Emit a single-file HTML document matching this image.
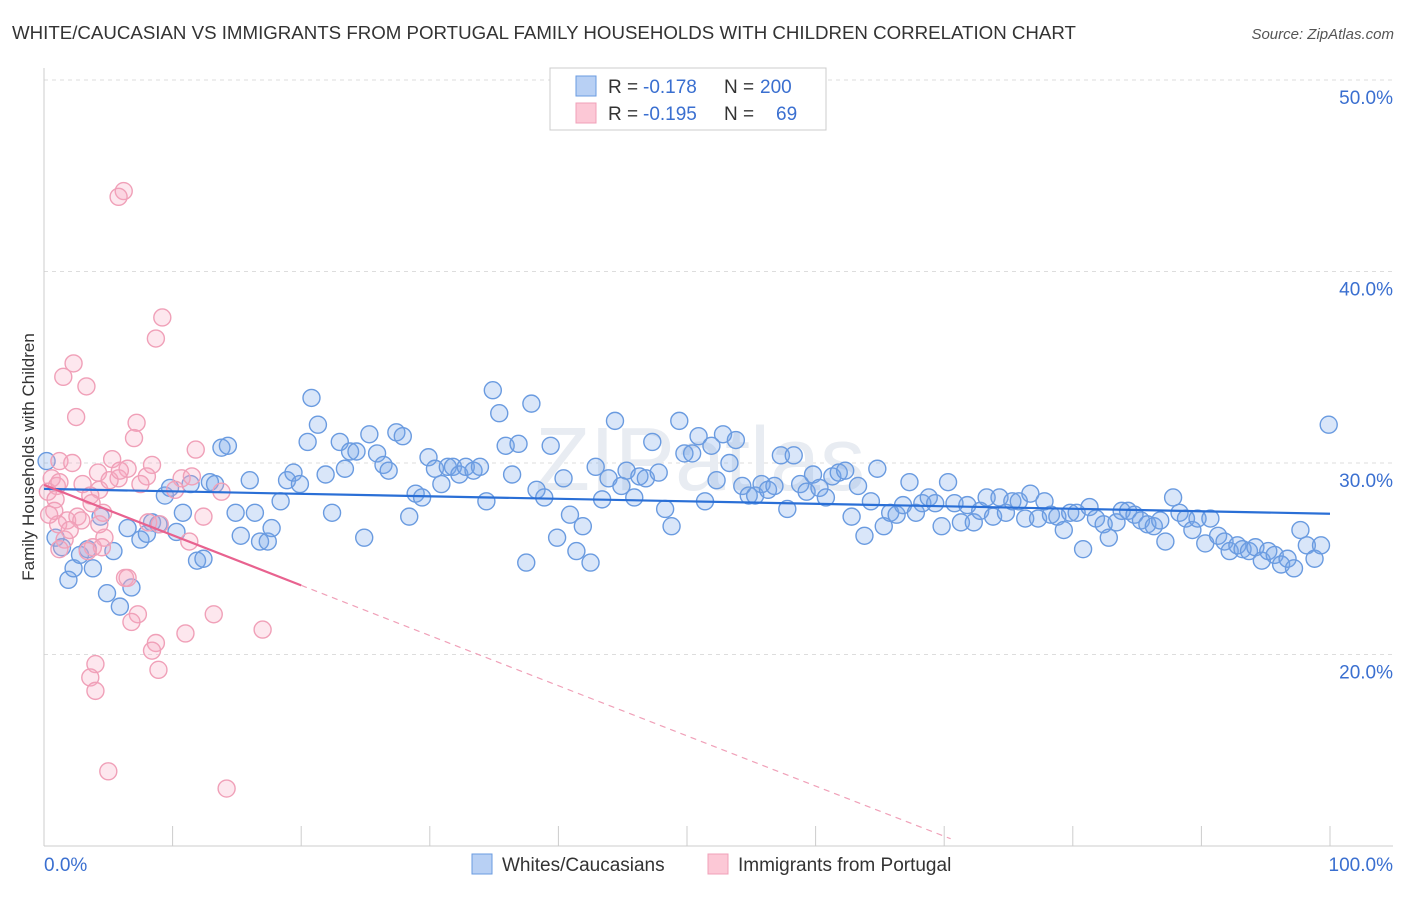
<!DOCTYPE html>
<html><head><meta charset="utf-8">
<style>
body{margin:0;background:#fff;font-family:"Liberation Sans",sans-serif;}
svg text{font-family:"Liberation Sans",sans-serif;}
</style></head>
<body>
<svg width="1406" height="892" viewBox="0 0 1406 892" xmlns="http://www.w3.org/2000/svg">
<text x="12" y="39" font-size="18.7" fill="#333">WHITE/CAUCASIAN VS IMMIGRANTS FROM PORTUGAL FAMILY HOUSEHOLDS WITH CHILDREN CORRELATION CHART</text>
<text x="1394" y="39" font-size="15" fill="#555" text-anchor="end" font-style="italic">Source: ZipAtlas.com</text>
<g id="grid"></g>
<g id="axes"></g>
<text x="700" y="490" font-size="90" fill="#e8ecf2" text-anchor="middle" font-family="Liberation Serif">ZIPatlas</text>
<g id="blue"></g>
<g id="pink"></g>
<g id="trends"></g>
<text transform="translate(34,457) rotate(-90)" font-size="17" fill="#333" text-anchor="middle">Family Households with Children</text>
<g>
<rect x="550" y="68" width="276" height="62" fill="#fff" stroke="#ccc"/>
<rect x="576" y="76" width="20" height="20" fill="#b8d0f4" stroke="#6a9be0"/>
<rect x="576" y="103" width="20" height="20" fill="#fcc8d6" stroke="#f0a0b8"/>
<text x="608" y="93" font-size="19" fill="#333">R =</text>
<text x="643" y="93" font-size="19" fill="#3a6fd0">-0.178</text>
<text x="724" y="93" font-size="19" fill="#333">N =</text>
<text x="760" y="93" font-size="19" fill="#3a6fd0">200</text>
<text x="608" y="120" font-size="19" fill="#333">R =</text>
<text x="643" y="120" font-size="19" fill="#3a6fd0">-0.195</text>
<text x="724" y="120" font-size="19" fill="#333">N =</text>
<text x="776" y="120" font-size="19" fill="#3a6fd0">69</text>
</g>
<g>
<rect x="472" y="854" width="20" height="20" fill="#b8d0f4" stroke="#6a9be0"/>
<text x="502" y="871" font-size="19" fill="#333">Whites/Caucasians</text>
<rect x="708" y="854" width="20" height="20" fill="#fcc8d6" stroke="#f0a0b8"/>
<text x="738" y="871" font-size="19" fill="#333">Immigrants from Portugal</text>
</g>
</svg>
<script>
const yTicks=[20,30,40,50];
const yTickLabels=["20.0%","30.0%","40.0%","50.0%"];
const xTicks=[0,10,20,30,40,50,60,70,80,90,100];
const blueX=[0.2,0.9,1.4,1.9,2.3,2.8,3.4,3.8,4.4,4.9,5.4,5.9,6.5,6.8,7.5,8.0,8.4,8.9,9.4,9.8,10.3,10.8,11.4,11.9,12.4,12.9,13.3,13.8,14.3,14.9,15.3,16.0,16.4,16.8,17.4,17.7,18.4,18.9,19.4,19.9,20.5,20.8,21.3,21.9,22.4,23.0,23.4,23.8,24.3,24.9,25.3,25.9,26.4,26.8,27.4,27.9,28.4,28.9,29.4,29.9,30.4,30.9,31.4,31.8,32.3,32.8,33.4,33.9,34.4,34.9,35.4,35.9,36.4,36.9,37.5,37.9,38.3,38.9,39.4,39.9,40.4,40.9,41.4,41.9,42.5,42.9,43.4,43.9,44.4,44.9,45.3,45.9,46.3,46.8,47.3,47.8,48.3,48.8,49.4,49.8,50.4,50.9,51.4,51.9,52.3,52.8,53.3,53.8,54.3,54.8,55.3,55.8,56.3,56.8,57.3,57.8,58.3,58.8,59.3,59.8,60.3,60.8,61.3,61.8,62.3,62.8,63.3,63.8,64.3,64.8,65.3,65.8,66.3,66.8,67.3,67.8,68.3,68.8,69.3,69.8,70.3,70.8,71.3,71.8,72.3,72.8,73.3,73.8,74.3,74.8,75.3,75.8,76.3,76.7,77.3,77.8,78.3,78.8,79.3,79.8,80.3,80.8,81.3,81.8,82.4,82.8,83.4,83.8,84.3,84.8,85.3,85.8,86.3,86.8,87.2,87.8,88.3,88.8,89.3,89.7,90.3,90.7,91.3,91.8,92.2,92.8,93.2,93.7,94.2,94.7,95.2,95.7,96.2,96.7,97.2,97.7,98.2,98.8,99.3,99.9];
const blueY=[30.1,26.1,25.6,23.9,24.5,25.2,25.5,24.5,27.2,23.2,25.4,22.5,26.6,23.5,26.0,26.3,26.9,26.8,28.3,28.7,26.4,27.4,28.9,24.9,25.0,29.0,28.9,30.8,30.9,27.4,26.2,29.1,27.4,25.9,25.9,26.6,28.0,29.1,29.5,28.9,31.1,33.4,32.0,29.4,27.4,31.1,29.7,30.6,30.6,26.1,31.5,30.5,29.9,29.6,31.6,31.4,27.2,28.4,28.2,30.3,29.7,28.9,29.8,29.8,29.4,29.8,29.6,29.8,28.0,33.8,32.6,30.9,29.4,31.0,24.8,33.1,28.6,28.2,30.9,26.1,29.2,27.3,25.4,26.7,24.8,29.8,28.1,29.2,32.2,28.8,29.6,28.2,29.3,29.2,31.1,29.5,27.6,26.7,32.2,30.5,30.5,31.4,28.0,30.9,29.1,31.5,30.0,31.2,28.8,28.3,28.3,28.9,28.6,28.8,30.4,27.6,30.4,28.9,28.5,29.4,28.7,28.2,29.3,29.5,29.6,27.2,28.8,26.2,28.0,29.7,26.7,27.4,27.3,27.8,29.0,27.4,27.9,28.2,27.9,26.7,29.0,27.9,26.9,27.8,26.9,27.5,28.2,27.2,28.2,27.4,28.0,28.0,27.1,28.4,27.1,28.0,27.3,27.2,26.5,27.4,27.4,25.5,27.7,27.1,26.8,26.1,26.9,27.5,27.5,27.3,27.0,26.8,26.7,27.0,25.9,28.2,27.4,27.1,26.5,27.1,25.8,27.1,26.2,25.9,25.4,25.7,25.5,25.4,25.6,24.9,25.4,25.2,24.7,25.0,24.5,26.5,25.7,25.0,25.7,32.0];
const pinkX=[6.2,5.8,9.2,8.7,2.3,1.5,3.3,2.5,7.2,7.0,11.8,1.2,2.2,5.3,8.4,6.5,4.2,0.6,8.0,10.7,11.5,5.8,1.0,3.0,0.3,4.3,3.6,13.8,0.9,3.7,4.6,0.8,2.6,12.4,1.8,2.9,1.1,8.1,9.0,4.7,11.3,1.6,1.2,3.8,4.5,3.4,6.3,6.5,7.3,6.8,13.2,17.0,11.0,8.7,8.4,8.9,4.0,3.6,4.0,5.0,14.2,1.2,5.1,2.0,5.9,4.3,10.2,7.5,0.4];
const pinkY=[44.2,43.9,37.6,36.5,35.2,34.5,34.0,32.4,32.1,31.3,30.7,30.1,30.0,30.2,29.9,29.7,29.5,29.2,29.3,29.2,29.3,29.2,28.8,28.9,28.5,28.6,28.3,28.5,28.1,27.9,27.4,27.5,27.2,27.2,27.0,27.0,26.8,26.9,26.8,26.1,25.9,26.0,25.5,25.6,25.6,25.4,24.0,24.0,22.1,21.7,22.1,21.3,21.1,20.6,20.2,19.2,19.5,18.8,18.1,13.9,13.0,29.0,29.1,26.5,29.6,26.8,28.6,28.9,27.3];
const blueTrend=[28.65,27.35];
const pinkTrend=[28.85,-0.262];
const NS="http://www.w3.org/2000/svg";
const X=v=>44+v*12.86, Y=v=>846-(v-10)*19.15;
function mk(t,a,p){const e=document.createElementNS(NS,t);for(const k in a)e.setAttribute(k,a[k]);p.appendChild(e);return e;}
const grid=document.getElementById('grid');
yTicks.forEach((t,i)=>{
 const l=mk('line',{x1:44,x2:1393,y1:Y(t),y2:Y(t),stroke:'#ddd','stroke-dasharray':'4,4'},grid);
 
 
 const tx=mk('text',{x:1393,y:Y(t)+24,'font-size':19,fill:'#3a6fd0','text-anchor':'end'},grid);
 tx.textContent=yTickLabels[i];
 
 
});
const axes=document.getElementById('axes');
let a=mk('line',{x1:44,x2:44,y1:68,y2:846,stroke:'#ccc'},axes);


a=mk('line',{x1:44,x2:1393,y1:846,y2:846,stroke:'#ccc'},axes);


xTicks.forEach(t=>{const l=mk('line',{x1:X(t),x2:X(t),y1:826,y2:846,stroke:'#ccc'},axes);
 
 });
let t0=mk('text',{x:44,y:871,'font-size':19,fill:'#3a6fd0'},axes);t0.textContent='0.0%';


t0=mk('text',{x:1393,y:871,'font-size':19,fill:'#3a6fd0','text-anchor':'end'},axes);t0.textContent='100.0%';


const bg=document.getElementById('blue');
blueX.forEach((x,i)=>{const c=mk('circle',{cx:X(x),cy:Y(blueY[i]),r:8.5,fill:'rgba(120,165,235,0.28)',stroke:'#6a9be0','stroke-width':1.4},bg);
 
 });
const pg=document.getElementById('pink');
pinkX.forEach((x,i)=>{const c=mk('circle',{cx:X(x),cy:Y(pinkY[i]),r:8.5,fill:'rgba(248,170,195,0.28)',stroke:'#f0a0b8','stroke-width':1.4},pg);
 
 });
const tg=document.getElementById('trends');
let tl=mk('line',{x1:X(0),y1:Y(blueTrend[0]),x2:X(100),y2:Y(blueTrend[1]),stroke:'#2a6fd6','stroke-width':2.2},tg);


const pY=x=>pinkTrend[0]+pinkTrend[1]*x;
tl=mk('line',{x1:X(0),y1:Y(pY(0)),x2:X(20),y2:Y(pY(20)),stroke:'#e8628f','stroke-width':2.2},tg);


tl=mk('line',{x1:X(20),y1:Y(pY(20)),x2:X(70.5),y2:Y(pY(70.5)),stroke:'#f0a0b8','stroke-width':1.2,'stroke-dasharray':'6,5'},tg);


</script>
</body></html>
